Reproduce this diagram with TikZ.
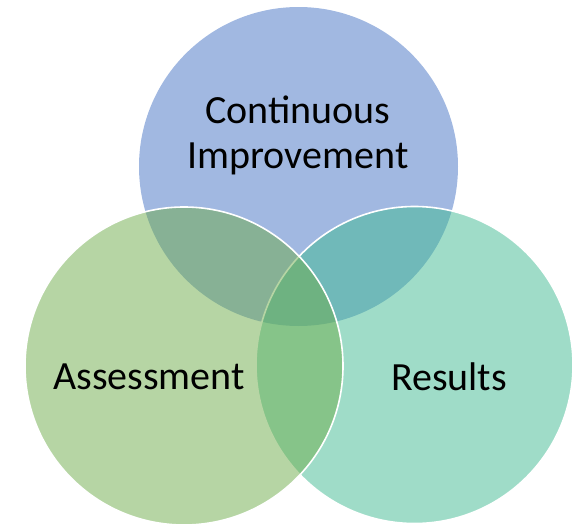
\documentclass[tikz,border=0pt]{standalone}
\usepackage{fontspec}
\setmainfont{Carlito}
\definecolor{cblue}{RGB}{68,114,196}
\definecolor{cgreen}{RGB}{110,172,74}
\definecolor{cteal}{RGB}{64,186,146}
\tikzset{
  venn/.style={fill opacity=0.5},
  vennline/.style={draw=white, line width=1.6pt},
  lbl/.style={font=\fontsize{40}{44}\selectfont, text=black, align=center, inner sep=0pt}
}
\begin{document}
\begin{tikzpicture}[x=1pt,y=-1pt]
\useasboundingbox (0,0) rectangle (574,525);
\path[venn, fill=cblue] (298.5,166.5) circle[radius=159.5];
\path[venn, vennline, fill=cteal] (414.5,365) circle[radius=158.5];
\path[venn, vennline, fill=cgreen] (184,366) circle[radius=159];
\node[lbl] (ci) at (298,135) {Continuous\\[1pt]Improvement};
\node[lbl] (as) at (149,377) {Assessment};
\node[lbl] (re) at (449,377) {Results};
\end{tikzpicture}
\end{document}
